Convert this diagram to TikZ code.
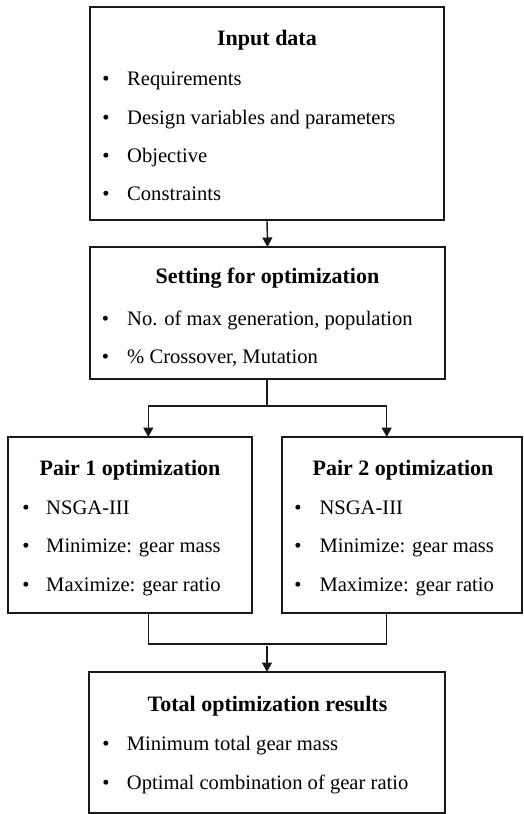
\documentclass[tikz,border=0pt]{standalone}
\usepackage{fontspec}
\setmainfont{Liberation Serif}
\usetikzlibrary{arrows.meta}
\begin{document}
\begin{tikzpicture}[x=1pt,y=-1pt,
 box/.style={draw=black!90, line width=1.8pt, inner sep=0pt, outer sep=0pt},
 ttl/.style={font=\fontsize{22}{26}\selectfont\bfseries, anchor=base, inner sep=0pt},
 itm/.style={font=\fontsize{20.6}{24}\selectfont, anchor=base west, inner sep=0pt},
 bul/.style={font=\fontsize{20.6}{24}\selectfont, anchor=base, inner sep=0pt},
 conn/.style={line width=1.4pt, draw=black!90},
 arr/.style={conn, -{Triangle[width=10pt,length=9.5pt]}}]
\useasboundingbox (0,0) rectangle (523,814);

% boxes
\node[box, minimum width=354pt, minimum height=213pt] (b1) at (267,113.5) {};
\node[box, minimum width=355pt, minimum height=132pt] (b2) at (267.5,313) {};
\node[box, minimum width=244pt, minimum height=176pt] (p1) at (130,525) {};
\node[box, minimum width=240pt, minimum height=176pt] (p2) at (402,525) {};
\node[box, minimum width=356pt, minimum height=141pt] (b4) at (267,742.5) {};

% box 1 text
\node[ttl] (t1) at (267,45) {Input data};
\node[bul] (u1a) at (106,85.5) {•};  \node[itm] (i1a) at (127,85.5) {Requirements};
\node[bul] (u1b) at (106,124) {•};   \node[itm] (i1b) at (127,124) {Design variables and parameters};
\node[bul] (u1c) at (106,162.5) {•}; \node[itm] (i1c) at (127,162.5) {Objective};
\node[bul] (u1d) at (106,200.5) {•}; \node[itm] (i1d) at (127,200.5) {Constraints};

% box 2 text
\node[ttl] (t2) at (267.5,283.3) {Setting for optimization};
\node[bul] (u2a) at (105.5,325) {•}; \node[itm] (i2a) at (127,325) {No. of max generation, population};
\node[bul] (u2b) at (105.5,363) {•}; \node[itm] (i2b) at (127,363) {\% Crossover, Mutation};

% pair 1 text
\node[ttl] (t3) at (130,475) {Pair 1 optimization};
\node[bul] (u3a) at (26,514) {•}; \node[itm] (i3a) at (46,514) {NSGA-III};
\node[bul] (u3b) at (26,552.5) {•}; \node[itm] (i3b) at (46,552.5) {Minimize: gear mass};
\node[bul] (u3c) at (26,591) {•}; \node[itm] (i3c) at (46,591) {Maximize: gear ratio};

% pair 2 text
\node[ttl] (t4) at (403,475) {Pair 2 optimization};
\node[bul] (u4a) at (298,514) {•}; \node[itm] (i4a) at (319.3,514) {NSGA-III};
\node[bul] (u4b) at (298,552.5) {•}; \node[itm] (i4b) at (319.3,552.5) {Minimize: gear mass};
\node[bul] (u4c) at (298,591) {•}; \node[itm] (i4c) at (319.3,591) {Maximize: gear ratio};

% box 4 text
\node[ttl] (t5) at (267.5,711.3) {Total optimization results};
\node[bul] (u5a) at (106,750) {•}; \node[itm] (i5a) at (126.7,750) {Minimum total gear mass};
\node[bul] (u5b) at (106,789) {•}; \node[itm] (i5b) at (126.7,789) {Optimal combination of gear ratio};

% connectors
\draw[arr] (b1.south) -- (b2.north);
\coordinate (sp) at (267,406);
\coordinate (sl) at (148.3,406);
\coordinate (sr) at (386.7,406);
\draw[conn] (sp |- b2.south) -- (sp);
\draw[conn, line cap=rect] (sl) -- (sr);
\draw[arr] (sl) -- (sl |- p1.north);
\draw[arr] (sr) -- (sr |- p2.north);

\coordinate (jl) at (148.3,644);
\coordinate (jr) at (386.7,644);
\coordinate (jm) at (267,646);
\draw[conn, line join=miter] (jl |- p1.south) -- (jl) -- (jr) -- (jr |- p2.south);
\draw[arr] (jm) -- (jm |- b4.north);
\end{tikzpicture}
\end{document}
